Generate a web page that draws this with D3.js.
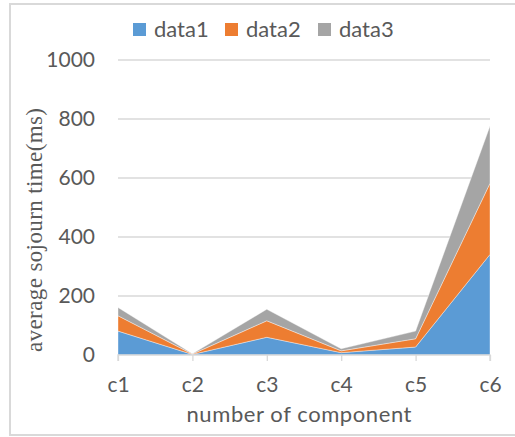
<!DOCTYPE html>
<html>
<head>
<meta charset="utf-8">
<script src="https://cdn.jsdelivr.net/npm/d3@7"></script>
<style>
  html, body { margin: 0; padding: 0; background: #fff; }
  svg { display: block; }
</style>
</head>
<body>
<svg id="chart" width="515" height="437"></svg>
<script>
// Categories along the x axis
const categories = ["c1", "c2", "c3", "c4", "c5", "c6"];
// Stacked series values (ms)
const data1 = [81, 2, 60, 8, 27, 341];
const data2 = [52, 1, 56, 6, 28, 241];
const data3 = [28, 1, 39, 7, 26, 194];
const seriesNames = ["data1", "data2", "data3"];
const seriesColors = ["#5b9bd5", "#ed7d31", "#a5a5a5"];
const yTicks = [0, 200, 400, 600, 800, 1000];

const svg = d3.select("#chart");
const plot = { left: 118, right: 490, top: 60, bottom: 355 };
const textColor = "#595959";
const gridColor = "#d9d9d9";
const font = "Lato, 'Noto Sans', sans-serif";

// Chart frame
svg.append("rect")
  .attr("x", 10).attr("y", 4)
  .attr("width", 520).attr("height", 431)
  .attr("fill", "none")
  .attr("stroke", gridColor)
  .attr("stroke-width", 2);

const x = d3.scalePoint().domain(categories).range([plot.left, plot.right]).padding(0);
const y = d3.scaleLinear().domain([0, 1000]).range([plot.bottom, plot.top]);

// Horizontal gridlines
svg.append("g").selectAll("line").data(yTicks.filter(d => d > 0)).join("line")
  .attr("x1", plot.left).attr("x2", plot.right)
  .attr("y1", d => y(d)).attr("y2", d => y(d))
  .attr("stroke", gridColor).attr("stroke-width", 1.3);

// Stacked areas
const rows = categories.map((c, i) => ({ cat: c, data1: data1[i], data2: data2[i], data3: data3[i] }));
const stack = d3.stack().keys(seriesNames)(rows);
const area = d3.area()
  .x(d => x(d.data.cat))
  .y0(d => y(d[0]))
  .y1(d => y(d[1]));

svg.append("g").selectAll("path").data(stack).join("path")
  .attr("d", area)
  .attr("fill", (d, i) => seriesColors[i])
  .attr("stroke", "rgba(255,255,255,0.55)")
  .attr("stroke-width", 0.7);

// X axis
const xAxis = d3.axisBottom(x).tickSize(6).tickPadding(16);
const gx = svg.append("g").attr("transform", `translate(0,${plot.bottom})`).call(xAxis);
gx.select(".domain").attr("stroke", gridColor).attr("stroke-width", 1.3)
  .attr("d", `M${plot.left},6V0H${plot.right}V6`);
gx.selectAll(".tick line").attr("stroke", gridColor).attr("stroke-width", 1.3);
gx.selectAll(".tick text").attr("fill", textColor)
  .style("font-family", font).style("font-size", "21px");

// Y axis labels
const yAxis = d3.axisLeft(y).tickValues(yTicks).tickFormat(d3.format("d")).tickSize(0).tickPadding(23);
const gy = svg.append("g").attr("transform", `translate(${plot.left},0)`).call(yAxis);
gy.select(".domain").remove();
gy.selectAll(".tick text").attr("fill", textColor)
  .style("font-family", font).style("font-size", "21px");

// Axis titles
svg.append("text")
  .attr("x", 299).attr("y", 422)
  .attr("text-anchor", "middle")
  .attr("fill", textColor)
  .style("font-family", font).style("font-size", "22px")
  .attr("textLength", 225).attr("lengthAdjust", "spacing")
  .text("number of component");

svg.append("text")
  .attr("transform", "translate(42,230) rotate(-90)")
  .attr("text-anchor", "middle")
  .attr("fill", textColor)
  .style("font-family", "'Liberation Serif', 'Times New Roman', serif").style("font-size", "23px")
  .attr("textLength", 244).attr("lengthAdjust", "spacing")
  .text("average sojourn time(ms)");

// Legend
const legendX = [133, 225, 318];
const lg = svg.append("g").selectAll("g").data(seriesNames).join("g")
  .attr("transform", (d, i) => `translate(${legendX[i]},23)`);
lg.append("rect").attr("width", 13).attr("height", 13)
  .attr("fill", (d, i) => seriesColors[i]);
lg.append("text").attr("x", 21).attr("y", 13.5)
  .attr("fill", textColor)
  .style("font-family", font).style("font-size", "22px")
  .text(d => d);
</script>
</body>
</html>
